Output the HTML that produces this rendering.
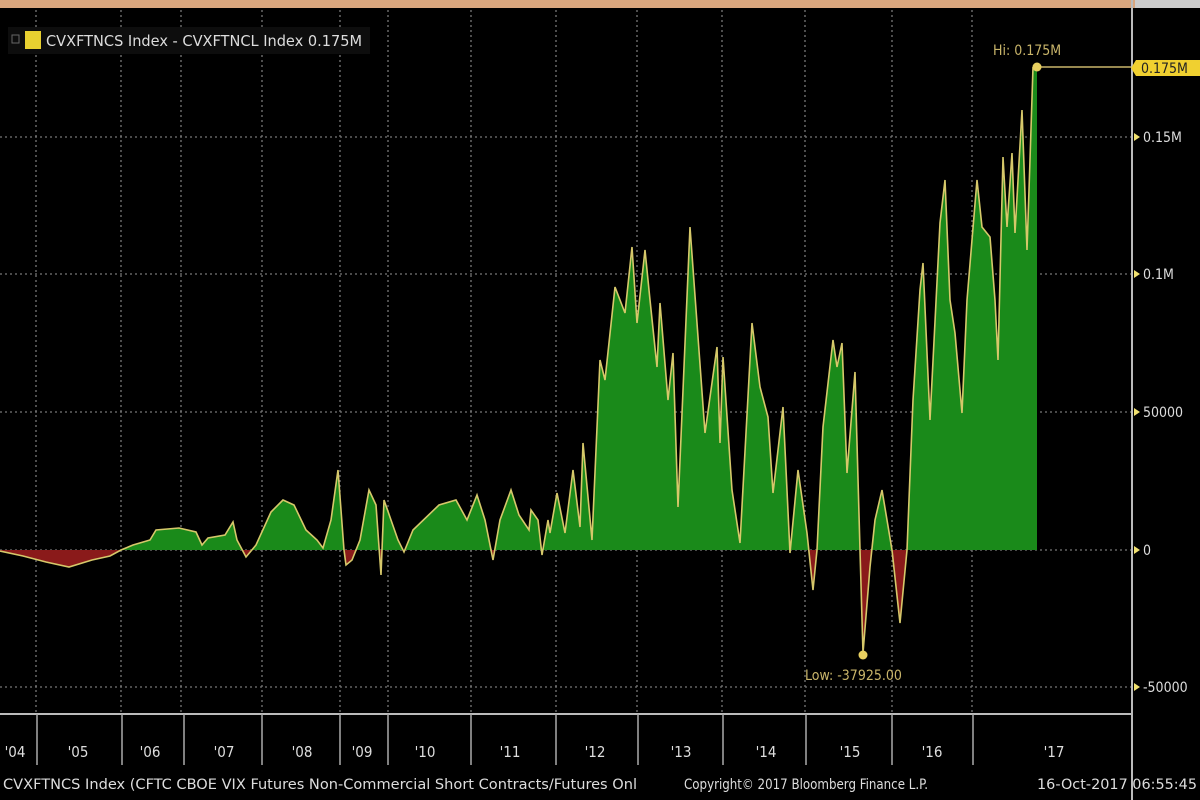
<!DOCTYPE html>
<html><head><meta charset="utf-8"><style>
html,body{margin:0;padding:0;background:#000;width:1200px;height:800px;overflow:hidden}
svg{display:block}
text{font-family:"DejaVu Sans Condensed","Liberation Sans",sans-serif}
</style></head><body>
<svg width="1200" height="800" viewBox="0 0 1200 800">
<rect width="1200" height="800" fill="#000"/>
<rect x="0" y="0" width="1135" height="8" fill="#d9a67e"/>
<rect x="1135" y="0" width="65" height="8" fill="#ccc"/>
<defs>
<clipPath id="above"><rect x="0" y="0" width="1200" height="550"/></clipPath>
<clipPath id="below"><rect x="0" y="550" width="1200" height="250"/></clipPath>
<polygon id="area" points="0,550 0,551 23,556 46,562 69,567 92,560 110,556 121,550 133,545 150,540 156,530 179,528 196,532 202,545 208,538 225,535 233,522 237,540 246,557 256,545 271,512 283,500 294,505 306,530 317,540 323,548 331,520 338,470 344,550 346,565 352,560 360,540 369,490 376,505 381,575 384,500 398,540 404,552 413,530 439,505 456,500 467,520 477,495 485,520 493,560 500,520 511,490 519,515 529,530 531,510 538,520 542,555 548,520 550,533 557,493 565,533 573,470 580,527 583,443 592,540 600,360 605,380 615,287 625,313 632,247 637,323 645,250 650,300 657,367 660,303 668,400 673,353 678,507 690,227 705,433 717,347 720,443 723,357 732,490 740,543 752,323 760,387 768,417 773,493 783,407 790,553 798,470 807,533 813,590 817,550 823,427 833,340 837,367 842,343 847,473 855,372 860,550 863,653 870,567 875,520 882,490 887,520 892,550 900,623 907,550 913,400 920,290 923,263 930,420 940,223 945,180 950,300 955,333 962,413 967,300 977,180 982,227 990,237 995,300 998,360 1003,157 1007,227 1012,153 1015,233 1022,110 1027,250 1030,160 1033,67 1037,67 1037,550"/>
</defs>
<g stroke="#777" stroke-width="1.3" stroke-dasharray="2,3">
<line x1="36" y1="10" x2="36" y2="713"/><line x1="121" y1="10" x2="121" y2="713"/><line x1="181" y1="10" x2="181" y2="713"/>
<line x1="262" y1="10" x2="262" y2="713"/><line x1="340" y1="10" x2="340" y2="713"/><line x1="388" y1="10" x2="388" y2="713"/>
<line x1="471" y1="10" x2="471" y2="713"/><line x1="556" y1="10" x2="556" y2="713"/>
<line x1="637" y1="10" x2="637" y2="713"/><line x1="722" y1="10" x2="722" y2="713"/><line x1="805" y1="10" x2="805" y2="713"/>
<line x1="892" y1="10" x2="892" y2="713"/><line x1="972" y1="10" x2="972" y2="713"/>
<line x1="0" y1="137" x2="1132" y2="137"/><line x1="0" y1="274" x2="1132" y2="274"/><line x1="0" y1="412" x2="1132" y2="412"/>
<line x1="0" y1="550" x2="1132" y2="550"/><line x1="0" y1="687" x2="1132" y2="687"/>
</g>
<use href="#area" fill="#1a8a1a" clip-path="url(#above)"/>
<use href="#area" fill="#8a1a1a" clip-path="url(#below)"/>
<polyline fill="none" stroke="#d6c86a" stroke-width="1.6" points="0,551 23,556 46,562 69,567 92,560 110,556 121,550 133,545 150,540 156,530 179,528 196,532 202,545 208,538 225,535 233,522 237,540 246,557 256,545 271,512 283,500 294,505 306,530 317,540 323,548 331,520 338,470 344,550 346,565 352,560 360,540 369,490 376,505 381,575 384,500 398,540 404,552 413,530 439,505 456,500 467,520 477,495 485,520 493,560 500,520 511,490 519,515 529,530 531,510 538,520 542,555 548,520 550,533 557,493 565,533 573,470 580,527 583,443 592,540 600,360 605,380 615,287 625,313 632,247 637,323 645,250 650,300 657,367 660,303 668,400 673,353 678,507 690,227 705,433 717,347 720,443 723,357 732,490 740,543 752,323 760,387 768,417 773,493 783,407 790,553 798,470 807,533 813,590 817,550 823,427 833,340 837,367 842,343 847,473 855,372 860,550 863,653 870,567 875,520 882,490 887,520 892,550 900,623 907,550 913,400 920,290 923,263 930,420 940,223 945,180 950,300 955,333 962,413 967,300 977,180 982,227 990,237 995,300 998,360 1003,157 1007,227 1012,153 1015,233 1022,110 1027,250 1030,160 1033,67"/>
<line x1="1037" y1="67" x2="1132" y2="67" stroke="#c9b56a" stroke-width="1.5"/>
<circle cx="1037" cy="67" r="4.5" fill="#e8d060"/>
<circle cx="863" cy="655" r="4.5" fill="#e8d060"/>
<text x="993" y="55" fill="#c9b56a" font-size="14">Hi: 0.175M</text>
<text x="805" y="680" fill="#c9b56a" font-size="14">Low: -37925.00</text>
<line x1="1132" y1="0" x2="1132" y2="800" stroke="#bbb" stroke-width="2"/>
<line x1="0" y1="714" x2="1132" y2="714" stroke="#bbb" stroke-width="2"/>
<path d="M1136,60 L1200,60 L1200,76 L1136,76 L1131,68 Z" fill="#f0d030"/>
<text x="1141" y="73" fill="#222" font-size="14">0.175M</text>
<path d="M1134,133 l6,4 l-6,4z M1134,270 l6,4 l-6,4z M1134,408 l6,4 l-6,4z M1134,546 l6,4 l-6,4z M1134,683 l6,4 l-6,4z" fill="#f0e070"/>
<g fill="#ddd" font-size="14">
<text x="1143" y="142">0.15M</text>
<text x="1143" y="279">0.1M</text>
<text x="1143" y="417">50000</text>
<text x="1143" y="555">0</text>
<text x="1143" y="692">-50000</text>
</g>
<g stroke="#aaa" stroke-width="1.5">
<line x1="37" y1="714" x2="37" y2="765"/><line x1="122" y1="714" x2="122" y2="765"/><line x1="184" y1="714" x2="184" y2="765"/>
<line x1="262" y1="714" x2="262" y2="765"/><line x1="340" y1="714" x2="340" y2="765"/><line x1="388" y1="714" x2="388" y2="765"/>
<line x1="471" y1="714" x2="471" y2="765"/><line x1="556" y1="714" x2="556" y2="765"/>
<line x1="638" y1="714" x2="638" y2="765"/><line x1="723" y1="714" x2="723" y2="765"/><line x1="806" y1="714" x2="806" y2="765"/>
<line x1="892" y1="714" x2="892" y2="765"/><line x1="973" y1="714" x2="973" y2="765"/>
</g>
<g fill="#ddd" font-size="15" text-anchor="middle">
<text x="15" y="757">'04</text><text x="78" y="757">'05</text><text x="150" y="757">'06</text><text x="224" y="757">'07</text>
<text x="302" y="757">'08</text><text x="362" y="757">'09</text><text x="425" y="757">'10</text><text x="510" y="757">'11</text>
<text x="595" y="757">'12</text><text x="681" y="757">'13</text><text x="766" y="757">'14</text><text x="850" y="757">'15</text>
<text x="932" y="757">'16</text><text x="1054" y="757">'17</text>
</g>
<g fill="#ddd" font-size="14">
<text x="3" y="789" textLength="634" lengthAdjust="spacingAndGlyphs">CVXFTNCS Index (CFTC CBOE VIX Futures Non-Commercial Short Contracts/Futures Onl</text>
<text x="684" y="789" textLength="244" lengthAdjust="spacingAndGlyphs">Copyright© 2017 Bloomberg Finance L.P.</text>
<text x="1037" y="789" textLength="160" lengthAdjust="spacingAndGlyphs">16-Oct-2017 06:55:45</text>
</g>
<rect x="8" y="27" width="362" height="27" fill="#0d0d0d"/>
<rect x="12" y="35" width="7" height="8" fill="none" stroke="#666"/>
<rect x="25" y="31" width="16" height="18" fill="#e8d030"/>
<text x="46" y="46" fill="#ddd" font-size="15" textLength="316" lengthAdjust="spacingAndGlyphs">CVXFTNCS Index - CVXFTNCL Index 0.175M</text>
</svg>
</body></html>
